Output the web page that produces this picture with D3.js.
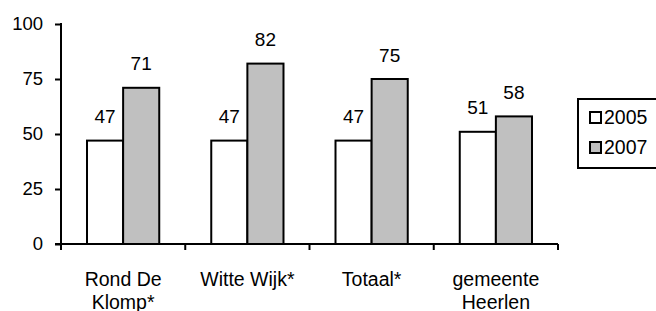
<!DOCTYPE html>
<html>
<head>
<meta charset="utf-8">
<script src="https://cdn.jsdelivr.net/npm/d3@7"></script>
<style>
body{margin:0;background:#fff;}
svg{display:block;font-family:"Liberation Sans",Arial,sans-serif;}
</style>
</head>
<body>
<svg id="chart" width="656" height="311"></svg>
<script>
// categories (two text lines each) and the two series
var categories=["Rond De|Klomp*","Witte Wijk*","Totaal*","gemeente|Heerlen"];
var seriesNames=["2005","2007"];
var values2005=[47,47,47,51];
var values2007=[71,82,75,58];
var yTicks=[0,25,50,75,100];
var fills={"2005":"#ffffff","2007":"#c0c0c0"};

var mLeft=61,mRight=558,mTop=24,mBottom=244;

var svg=d3.select('#chart');

var x0=d3.scaleBand().domain(categories).range([mLeft,mRight]).padding(0);
var x1=d3.scaleBand().domain(seriesNames).range([0,x0.bandwidth()]).paddingInner(0).paddingOuter(0.72);
var y=d3.scaleLinear().domain([0,100]).range([mBottom,mTop]);

var rows=[];
for(var i=0;i<categories.length;i+=1){
    rows.push({cat:categories[i],vals:[
        {s:"2005",v:values2005[i]},
        {s:"2007",v:values2007[i]}
    ]});
}

// bars
var g=svg.selectAll('g.grp')
    .data(rows)
    .enter()
    .append('g')
    .attr('class','grp')
    .attr('transform',function(d){return 'translate('+x0(d.cat)+',0)';});

g.selectAll('rect')
    .data(function(d){return d.vals;})
    .enter()
    .append('rect')
    .attr('x',function(d){return x1(d.s);})
    .attr('y',function(d){return y(d.v);})
    .attr('width',x1.bandwidth())
    .attr('height',function(d){return mBottom-y(d.v);})
    .attr('fill',function(d){return fills[d.s];})
    .attr('stroke','#000')
    .attr('stroke-width',2);

g.selectAll('text')
    .data(function(d){return d.vals;})
    .enter()
    .append('text')
    .text(function(d){return d.v;})
    .attr('x',function(d){return x1(d.s)+x1.bandwidth()/2;})
    .attr('y',function(d){return y(d.v)-17.5;})
    .attr('text-anchor','middle')
    .attr('font-size',19)
    .attr('fill','#000');

// y axis
var yAxis=svg.append('g')
    .attr('transform','translate('+mLeft+',0)')
    .call(d3.axisLeft(y).tickValues(yTicks).tickSize(6).tickSizeOuter(0).tickPadding(12));
yAxis.select('.domain').attr('stroke','#000').attr('stroke-width',2).attr('d','M0,'+(mTop-1)+'V'+(mBottom+1));
yAxis.selectAll('.tick line').attr('stroke','#000').attr('stroke-width',2);
yAxis.selectAll('.tick text').attr('font-size',18.5).attr('font-family','"Liberation Sans",Arial,sans-serif').attr('fill','#000');

// x axis line + ticks on category boundaries
svg.append('line')
    .attr('x1',mLeft-6).attr('x2',mRight)
    .attr('y1',mBottom).attr('y2',mBottom)
    .attr('stroke','#000').attr('stroke-width',2);
var bounds=categories.map(function(c){return x0(c);});
bounds.push(mRight);
svg.selectAll('line.xt')
    .data(bounds)
    .enter()
    .append('line')
    .attr('class','xt')
    .attr('x1',function(d){return d;}).attr('x2',function(d){return d;})
    .attr('y1',mBottom).attr('y2',mBottom+6)
    .attr('stroke','#000').attr('stroke-width',2);

// category labels
var cl=svg.selectAll('text.cat')
    .data(categories)
    .enter()
    .append('text')
    .attr('class','cat')
    .attr('text-anchor','middle')
    .attr('font-size',19.5)
    .attr('fill','#000');
cl.each(function(d){
    var parts=d.split('|');
    var t=d3.select(this);
    for(var k=0;k<parts.length;k+=1){
        t.append('tspan')
            .attr('x',x0(d)+x0.bandwidth()/2)
            .attr('y',286+k*23)
            .text(parts[k]);
    }
});

// legend
var lg=svg.append('g');
lg.append('rect')
    .attr('x',578).attr('y',99).attr('width',90).attr('height',69)
    .attr('fill','#fff').attr('stroke','#000').attr('stroke-width',2);
var items=lg.selectAll('g.it')
    .data(seriesNames)
    .enter()
    .append('g')
    .attr('class','it')
    .attr('transform',function(d,i){return 'translate(0,'+(i*30)+')';});
items.append('rect')
    .attr('x',590).attr('y',112).attr('width',11).attr('height',11)
    .attr('fill',function(d){return fills[d];})
    .attr('stroke','#000').attr('stroke-width',2);
items.append('text')
    .attr('x',604).attr('y',124)
    .attr('font-size',19.5)
    .attr('fill','#000')
    .text(function(d){return d;});
</script>
</body>
</html>
